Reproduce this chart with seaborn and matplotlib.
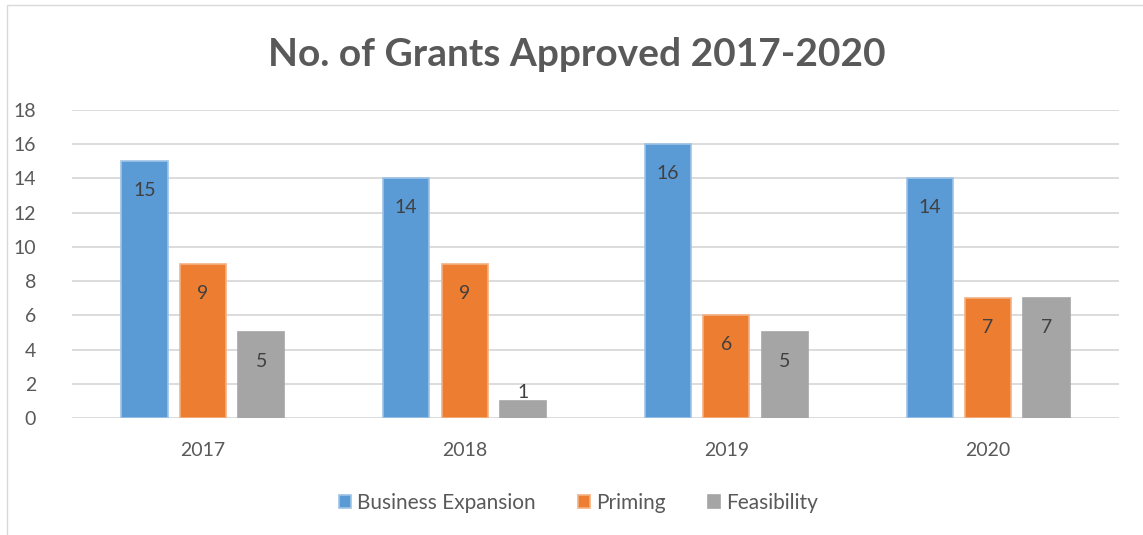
import numpy as np
import pandas as pd
import seaborn as sns
import matplotlib.pyplot as plt
from matplotlib.patches import Rectangle

# data
years = ['2017', '2018', '2019', '2020']
series = ['Business Expansion', 'Priming', 'Feasibility']
business_expansion = [15, 14, 16, 14]
priming = [9, 9, 6, 7]
feasibility = [5, 1, 5, 7]

colors = ['#5B9BD5', '#ED7D31', '#A5A5A5']
edges = ['#9DC3E6', '#F4B183', '#A5A5A5']

df = pd.DataFrame({
    'year': years * 3,
    'series': np.repeat(series, len(years)),
    'value': business_expansion + priming + feasibility,
})

sns.set_style('white')
plt.rcParams['font.family'] = ['Lato', 'DejaVu Sans']

fig = plt.figure(figsize=(11.43, 5.35), dpi=100)
ax = fig.add_axes([0.063, 0.2187, 0.916, 0.5757])

sns.barplot(data=df, x='year', y='value', hue='series', palette=colors, saturation=1,
            width=0.67, gap=0.21, ax=ax, legend=False)

for cont, ec in zip(ax.containers, edges):
    for bar in cont:
        bar.set_edgecolor(ec)
        bar.set_linewidth(1.2)
        h = bar.get_height()
        x = bar.get_x() + bar.get_width() / 2
        if h >= 2:
            ax.annotate(f'{h:.0f}', (x, h), xytext=(0, -21), textcoords='offset points',
                        ha='center', va='center', fontsize=14, color='#404040')
        else:
            # too short to hold its label, so it goes above the bar
            ax.annotate(f'{h:.0f}', (x, h), xytext=(0, 6), textcoords='offset points',
                        ha='center', va='center', fontsize=14, color='#404040')

ax.set_ylim(0, 18)
ax.set_yticks(range(0, 19, 2))
ax.set_xlim(-0.5, 3.5)
ax.yaxis.grid(True, color='#D9D9D9', linewidth=1.3)
ax.set_axisbelow(True)
for s in ax.spines.values():
    s.set_visible(False)
ax.tick_params(axis='both', length=0, labelsize=14, labelcolor='#595959')
ax.tick_params(axis='x', pad=17)
ax.tick_params(axis='y', pad=26)
ax.set_xlabel('')
ax.set_ylabel('')

fig.suptitle('No. of Grants Approved 2017-2020', x=0.505, y=0.93, fontsize=28,
             fontweight='bold', color='#595959')

handles = [Rectangle((0, 0), 1, 1, facecolor=c, edgecolor=e, linewidth=1.2)
           for c, e in zip(colors, edges)]
leg = fig.legend(handles, series, loc='center', bbox_to_anchor=(0.506, 0.06), ncol=3,
                 frameon=False, fontsize=15, handlelength=0.6, handleheight=0.6,
                 handletextpad=0.3, columnspacing=2.0)
for t in leg.get_texts():
    t.set_color('#595959')

# chart border
fig.add_artist(Rectangle((7 / 1143, -0.01), 1.01, 1 - 5 / 535 + 0.01, transform=fig.transFigure,
                         fill=False, edgecolor='#D9D9D9', linewidth=1))

fig.savefig('out.png', dpi=100)
